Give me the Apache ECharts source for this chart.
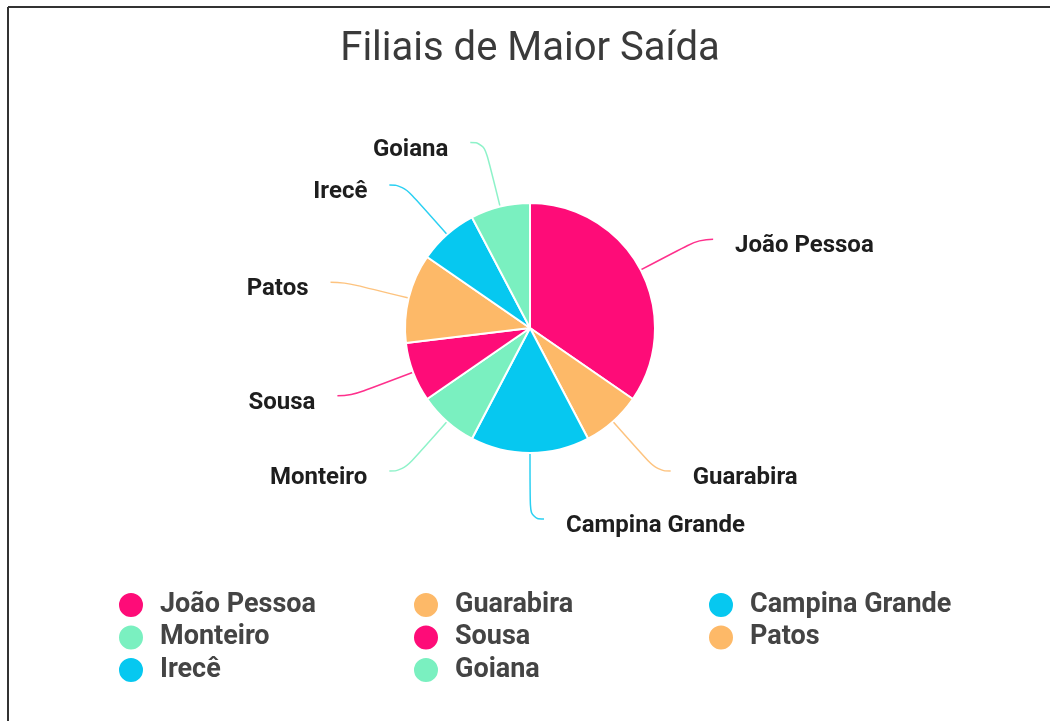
<!DOCTYPE html>
<html>
<head>
<meta charset="utf-8">
<title>Filiais de Maior Saída</title>
<script src="https://cdn.jsdelivr.net/npm/echarts@6/dist/echarts.min.js"></script>
<style>
  html, body { margin: 0; padding: 0; background: #fff; }
  #chart { width: 1050px; height: 721px; }
</style>
</head>
<body>
<div id="chart"></div>
<script>
// Branches and their share of outgoing volume
const branches = ['João Pessoa', 'Guarabira', 'Campina Grande', 'Monteiro', 'Sousa', 'Patos', 'Irecê', 'Goiana'];
const volumes = [9, 2, 4, 2, 2, 3, 2, 2];
const palette = ['#fe0c78', '#fdb968', '#06c8f0', '#7af0c0'];

// Legend columns (row-major order laid out as three vertical lists)
const legendCol1 = ['João Pessoa', 'Monteiro', 'Irecê'];
const legendCol2 = ['Guarabira', 'Sousa', 'Goiana'];
const legendCol3 = ['Campina Grande', 'Patos'];

const chart = echarts.init(document.getElementById('chart'), null, { renderer: 'canvas' });

const legendBase = {
  orient: 'vertical',
  top: 591,
  padding: 0,
  icon: 'circle',
  itemWidth: 26,
  itemHeight: 26,
  itemGap: 4.5,
  selectedMode: false,
  textStyle: {
    fontFamily: 'Roboto',
    fontSize: 27,
    lineHeight: 26,
    fontWeight: 'bold',
    color: '#444',
    padding: [0, 0, 0, 11]
  }
};

chart.setOption({
  color: palette,
  animation: false,
  title: {
    text: 'Filiais de Maior Saída',
    left: 525,
    textAlign: 'center',
    top: 25,
    textStyle: {
      fontFamily: 'Roboto',
      fontSize: 40,
      fontWeight: 'normal',
      color: '#3a3a3a'
    }
  },
  legend: [
    Object.assign({}, legendBase, { left: 117, data: legendCol1 }),
    Object.assign({}, legendBase, { left: 412, data: legendCol2 }),
    Object.assign({}, legendBase, { left: 707, data: legendCol3 })
  ],
  graphic: [
    { type: 'line', shape: { x1: 8, y1: 7, x2: 1050, y2: 7 }, style: { stroke: '#333', lineWidth: 2 } },
    { type: 'line', shape: { x1: 8, y1: 7, x2: 8, y2: 721 }, style: { stroke: '#333', lineWidth: 2 } }
  ],
  series: [{
    type: 'pie',
    center: [530, 328],
    radius: 125,
    startAngle: 90,
    clockwise: true,
    avoidLabelOverlap: false,
    emphasis: { disabled: true },
    itemStyle: { borderColor: '#fff', borderWidth: 2 },
    label: {
      show: true,
      // spacer line above the name sits the text slightly below the leader line end
      formatter: '{s| }\n{t|{b}}',
      distanceToLabelLine: 22,
      rich: {
        s: { height: 14, lineHeight: 14, fontSize: 10 },
        t: {
          fontFamily: 'Roboto',
          fontSize: 24,
          lineHeight: 28,
          fontWeight: 'bold',
          color: '#1e1e1e'
        }
      }
    },
    labelLine: {
      show: true,
      smooth: 0.5,
      length: 66,
      length2: 14,
      lineStyle: { width: 1.5, opacity: 0.85 }
    },
    data: branches.map((name, i) => ({ name: name, value: volumes[i] }))
  }]
});
</script>
</body>
</html>
